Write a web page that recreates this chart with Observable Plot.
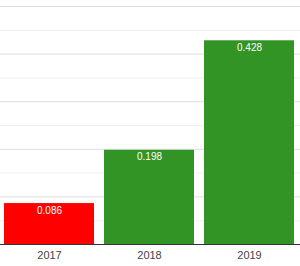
<!DOCTYPE html>
<html>
<head>
<meta charset="utf-8">
<script src="https://cdn.jsdelivr.net/npm/d3@7"></script>
<script src="https://cdn.jsdelivr.net/npm/@observablehq/plot@0.6"></script>
<style>
  html, body { margin: 0; padding: 0; background: #fff; }
  #chart svg { display: block; }
</style>
</head>
<body>
<div id="chart"></div>
<script>
const years = ["2017", "2018", "2019"];
const values = [0.086, 0.198, 0.428];
const barColors = ["#ff0000", "#339426", "#339426"];
const majorTicks = [0.1, 0.2, 0.3, 0.4, 0.5];
const minorTicks = [0.05, 0.15, 0.25, 0.35, 0.45];

const data = years.map((y, i) => ({year: y, value: values[i], color: barColors[i]}));

const chart = Plot.plot({
  width: 300,
  height: 266,
  marginTop: 6,
  marginBottom: 22,
  marginLeft: 0,
  marginRight: 0,
  style: {fontFamily: "Arial, 'Liberation Sans', sans-serif", background: "#fff"},
  x: {domain: years, range: [-1, 299], paddingInner: 0.1, paddingOuter: 0.05, label: null, tickSize: 0, tickPadding: 7},
  y: {domain: [0, 0.5], axis: null},
  marks: [
    Plot.ruleY(minorTicks, {stroke: "#f0f0f0", strokeWidth: 1}),
    Plot.ruleY(majorTicks, {stroke: "#dedede", strokeWidth: 1}),
    Plot.barY(data, {x: "year", y: "value", fill: "color"}),
    Plot.ruleY([0], {stroke: "#333", strokeWidth: 1}),
    Plot.text(data, {x: "year", y: "value", text: d => d.value.toFixed(3), fill: "#fff", fontSize: 10, dy: 7}),
    Plot.axisX({tickSize: 0, tickPadding: 7, fontSize: 11, color: "#444", label: null})
  ]
});
document.getElementById("chart").appendChild(chart);
</script>
</body>
</html>
